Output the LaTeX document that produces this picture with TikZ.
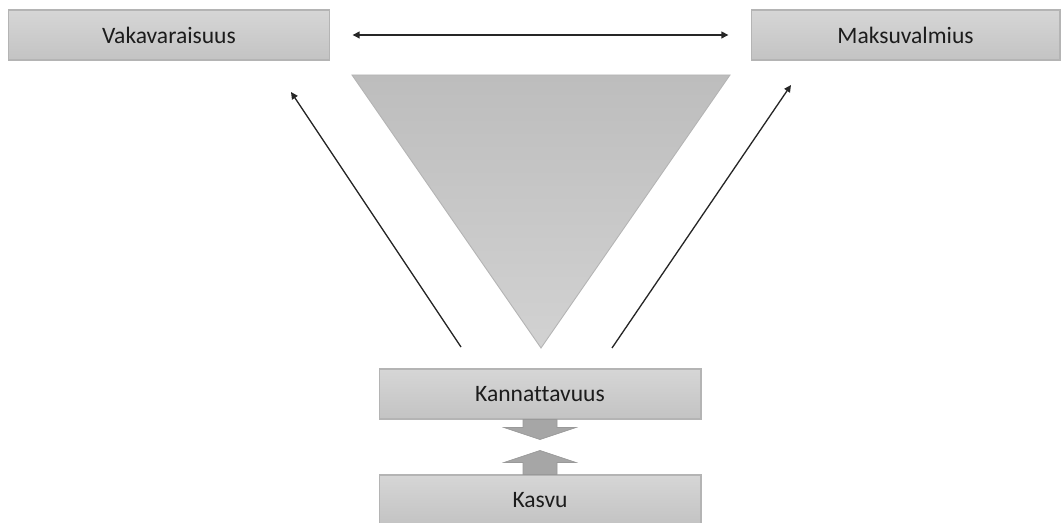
\documentclass[tikz,border=0pt]{standalone}
\usepackage{fontspec}
\setmainfont{Carlito}[Ligatures=NoCommon]
\usetikzlibrary{arrows.meta,calc}

\definecolor{boxtop}{HTML}{D6D6D6}
\definecolor{boxbot}{HTML}{C3C3C3}
\definecolor{boxline}{HTML}{B4B4B4}
\definecolor{tritop}{HTML}{BDBDBD}
\definecolor{tribot}{HTML}{D2D2D2}
\definecolor{blockfill}{HTML}{A6A6A6}
\definecolor{txt}{HTML}{1C1C1C}

\begin{document}
\begin{tikzpicture}[
    x=0.02cm, y=-0.02cm,
    >={Triangle[length=4pt,width=3.8pt]},
    tbox/.style  = {rectangle, draw=boxline, line width=0.6pt,
                    top color=boxtop, bottom color=boxbot,
                    minimum height=1cm, text=txt,
                    font=\fontsize{13.4}{16}\selectfont},
    link/.style  = {->, draw=black!85, line width=0.75pt},
    block/.style = {fill=blockfill, draw=black!40, line width=0.4pt},
  ]
  \useasboundingbox (0,0) rectangle (1062,523);
  % boxes
  \node[tbox, minimum width=6.44cm] (vak)  at (169,35)   {Vakavaraisuus};
  \node[tbox, minimum width=6.18cm] (mak)  at (905.5,35) {Maksuvalmius};
  \node[tbox, minimum width=6.44cm] (kann) at (540,394)  {Kannattavuus};
  \node[tbox, minimum width=6.44cm] (kas)  at (540,500)  {Kasvu};
  % funnel triangle
  \shade[top color=tritop, bottom color=tribot, draw=boxline, line width=0.5pt]
    (352,75) -- (730,75) -- (541,348) -- cycle;
  % free ends of the slanted arrows
  \coordinate (l0) at (461,347);
  \coordinate (l1) at (291,92);
  \coordinate (r0) at (612,348);
  \coordinate (r1) at (791,85);
  \draw[link] (l0) -- (l1);
  \draw[link] (r0) -- (r1);
  \draw[link, <->] ($(vak.east)+(22,0)$) -- ($(mak.west)+(-22,0)$);
  % block arrows between Kannattavuus and Kasvu
  \draw[block] ($(kann.south)+(-17,0)$) -- ++(0,8) -- ++(-19,0) -- ++(36,12)
    -- ++(36,-12) -- ++(-19,0) -- ++(0,-8) -- cycle;
  \draw[block] ($(kas.north)+(-17,0)$) -- ++(0,-12) -- ++(-19,0) -- ++(36,-12)
    -- ++(36,12) -- ++(-19,0) -- ++(0,12) -- cycle;
\end{tikzpicture}
\end{document}
